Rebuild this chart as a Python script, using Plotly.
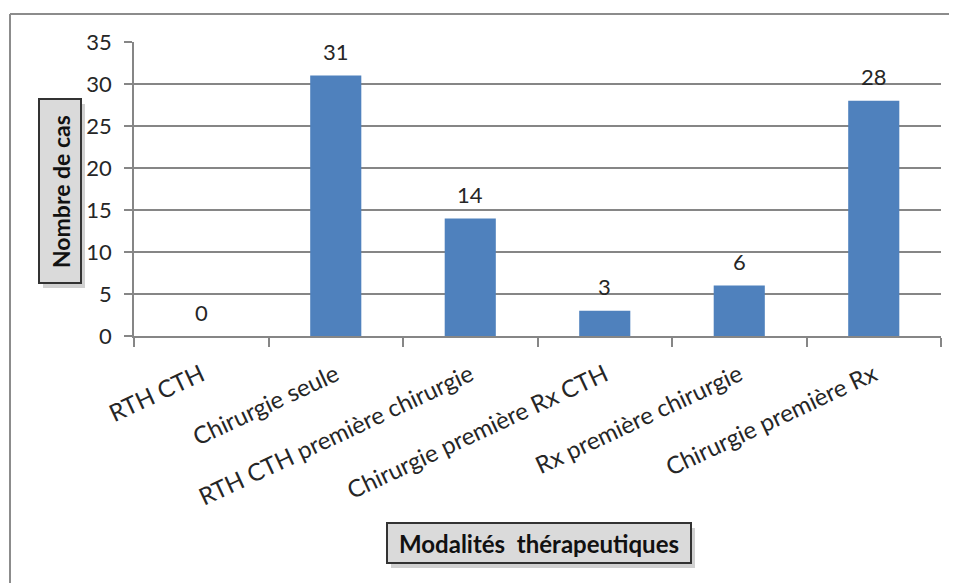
import plotly.graph_objects as go

categories = ["RTH CTH", "Chirurgie seule", "RTH CTH première chirurgie",
              "Chirurgie première Rx CTH", "Rx première chirurgie", "Chirurgie première Rx"]
values = [0, 31, 14, 3, 6, 28]
y_ticks = [0, 5, 10, 15, 20, 25, 30, 35]

FONT = "Lato"
OFF = 8  # page body margin
W, H = 957 - OFF, 583 - OFF
ML, MR, MT, MB = 134 - OFF, 16, 42 - OFF, 247
PW, PH = W - ML - MR, H - MT - MB

def px_x(x):
    return (x - OFF - ML) / PW

def px_y(y):
    return (H - MB - (y - OFF)) / PH

fig = go.Figure()
fig.add_trace(go.Bar(
    x=categories, y=values,
    marker=dict(color="#4F81BD", line=dict(width=0)),
    width=0.38,
))

for c, v in zip(categories, values):
    fig.add_annotation(x=c, y=v, text=str(v), showarrow=False,
                       yanchor="middle", yshift=24,
                       font=dict(family=FONT, size=22, color="#262626"))

def title_box(x0, y0, x1, y1):
    # shadow
    fig.add_shape(type="rect", xref="paper", yref="paper",
                  x0=px_x(x0 + 4), y0=px_y(y1 + 5), x1=px_x(x1 + 4), y1=px_y(y0 + 5),
                  line=dict(width=0), fillcolor="rgba(0,0,0,0.18)")
    fig.add_shape(type="rect", xref="paper", yref="paper",
                  x0=px_x(x0), y0=px_y(y1), x1=px_x(x1), y1=px_y(y0),
                  line=dict(color="#333333", width=2), fillcolor="#DADADA")

title_box(39, 99, 81, 283)
title_box(387, 523, 691, 563)

# axis titles
fig.add_annotation(xref="paper", yref="paper", x=px_x(61), y=px_y(192),
                   xanchor="center", yanchor="middle",
                   text="<b>Nombre de cas</b>", textangle=-90, showarrow=False,
                   font=dict(family=FONT, size=23, color="#111"))
fig.add_annotation(xref="paper", yref="paper", x=px_x(539), y=px_y(543),
                   xanchor="center", yanchor="middle",
                   text="<b>Modalités  thérapeutiques</b>", showarrow=False,
                   font=dict(family=FONT, size=24, color="#111"))

# outer chart border (top and left visible)
fig.add_shape(type="line", xref="paper", yref="paper",
              x0=px_x(10), y0=px_y(14), x1=px_x(1000), y1=px_y(14),
              line=dict(color="#8c8c8c", width=2))
fig.add_shape(type="line", xref="paper", yref="paper",
              x0=px_x(10), y0=px_y(14), x1=px_x(10), y1=px_y(620),
              line=dict(color="#8c8c8c", width=2))

fig.update_layout(
    width=W, height=H,
    margin=dict(l=ML, r=MR, t=MT, b=MB, autoexpand=False),
    paper_bgcolor="white", plot_bgcolor="white",
    showlegend=False,
    font=dict(family=FONT, size=21, color="#262626"),
)
fig.update_xaxes(
    type="category", tickangle=-25, tickson="boundaries",
    ticks="outside", ticklen=9, tickcolor="#868686", tickwidth=1.5,
    showline=True, linecolor="#868686", linewidth=1.5,
    showgrid=False, ticklabelstandoff=14,
    tickfont=dict(family=FONT, size=24, color="#262626"),
)
fig.update_yaxes(
    range=[0, 35], tickvals=y_ticks, ticktext=[str(t) for t in y_ticks],
    ticks="outside", ticklen=8, tickcolor="#868686", tickwidth=1.5,
    showline=True, linecolor="#868686", linewidth=1.5,
    showgrid=True, gridcolor="#868686", gridwidth=1.5,
    zeroline=False, ticklabelstandoff=8,
    tickfont=dict(family=FONT, size=22, color="#262626"),
)

fig.write_html("out.html")
